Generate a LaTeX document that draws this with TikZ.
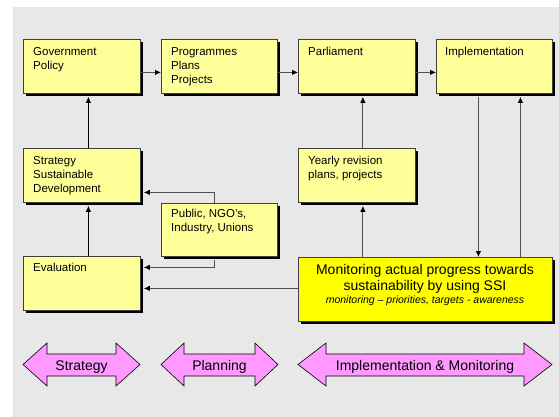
\documentclass[tikz,border=0pt]{standalone}
\usepackage{fontspec}
\setmainfont{Liberation Sans}
\usetikzlibrary{shadows,arrows.meta}
\definecolor{bggray}{HTML}{E8E8E8}
\definecolor{boxyellow}{HTML}{FFFF99}
\definecolor{monyellow}{HTML}{FFFF00}
\definecolor{pinkfill}{HTML}{FF99FF}
\definecolor{linegray}{HTML}{505050}
\definecolor{boxborder}{HTML}{404040}
\newcommand{\dblarrow}[5]{%
  \draw[parrow] (#1,364.5) -- (#1+#3,343) -- (#1+#3,354) -- (#2-#3,354) -- (#2-#3,343) -- (#2,364.5)
     -- (#2-#3,386) -- (#2-#3,376) -- (#1+#3,376) -- (#1+#3,386) -- cycle;
  \node[arrowtext] (#4) at ({(#1+#2)/2},370.5) {#5};}
\begin{document}
\begin{tikzpicture}[x=1pt,y=-1pt,
  ybox/.style={draw=boxborder, line width=0.8pt, fill=boxyellow,
    drop shadow={shadow xshift=3pt, shadow yshift=-3pt, opacity=1, fill=black},
    anchor=north west, inner sep=0pt},
  boxtext/.style={anchor=north west, inner sep=0pt, align=left,
    font=\fontsize{11.5}{14}\selectfont, text=black},
  montext/.style={anchor=base, inner sep=0pt, font=\fontsize{14}{17}\selectfont, text=black},
  conn/.style={draw=linegray, line width=0.9pt, -{Latex[length=6pt,width=5.5pt,fill=black,color=black]}},
  conndark/.style={conn, draw=black},
  parrow/.style={draw=black, line width=0.6pt, fill=pinkfill, line join=miter},
  arrowtext/.style={anchor=base, inner sep=0pt, font=\fontsize{14}{17}\selectfont, text=black}]
\useasboundingbox (0,0) rectangle (559,417);
\fill[white] (0,0) rectangle (559,417);
\fill[bggray] (13,7) rectangle (559,417);

% boxes
\node[ybox, minimum width=117pt, minimum height=54pt] (gov) at (23,39) {};
\node[ybox, minimum width=116pt, minimum height=54pt] (prog) at (161,39) {};
\node[ybox, minimum width=117pt, minimum height=54pt] (parl) at (298,39) {};
\node[ybox, minimum width=116pt, minimum height=54pt] (impl) at (436,39) {};
\node[ybox, minimum width=117pt, minimum height=54pt] (strat) at (23,148) {};
\node[ybox, minimum width=117pt, minimum height=54pt] (year) at (298,148) {};
\node[ybox, minimum width=116pt, minimum height=53pt] (pub) at (161,203) {};
\node[ybox, minimum width=117pt, minimum height=54pt] (eval) at (23,256) {};
\node[ybox, fill=monyellow, minimum width=254pt, minimum height=64pt] (mon) at (298,257) {};

% box texts
\node[boxtext] (govt) at ([xshift=10pt,yshift=-8pt]gov.north west) {Government\\Policy};
\node[boxtext] (progt) at ([xshift=10pt,yshift=-8pt]prog.north west) {Programmes\\Plans\\Projects};
\node[boxtext] (parlt) at ([xshift=10pt,yshift=-8pt]parl.north west) {Parliament};
\node[boxtext] (implt) at ([xshift=9pt,yshift=-8pt]impl.north west) {Implementation};
\node[boxtext] (stratt) at ([xshift=10pt,yshift=-8pt]strat.north west) {Strategy\\Sustainable\\Development};
\node[boxtext] (yeart) at ([xshift=10pt,yshift=-8pt]year.north west) {Yearly revision\\plans, projects};
\node[boxtext] (pubt) at ([xshift=10pt,yshift=-6pt]pub.north west) {Public, NGO's,\\Industry, Unions};
\node[boxtext] (evalt) at ([xshift=10pt,yshift=-7pt]eval.north west) {Evaluation};
\node[montext] (mt1) at (425,274) {Monitoring actual progress towards};
\node[montext] (mt2) at (425,290.5) {sustainability by using SSI};
\node[montext, font=\fontsize{10.5}{12.5}\selectfont\itshape] (mt3) at (425,303.5) {monitoring – priorities, targets - awareness};

% connectors
\draw[conn] ([yshift=-6pt]gov.east) -- ([yshift=-6pt]prog.west);
\draw[conn] ([yshift=-6pt]prog.east) -- ([yshift=-6pt]parl.west);
\draw[conn] ([yshift=-6pt]parl.east) -- ([yshift=-6pt]impl.west);
\draw[conndark, shorten >=3pt] ([xshift=6.5pt]strat.north) -- ([xshift=6.5pt]gov.south);
\draw[conndark, shorten >=3pt] ([xshift=6.5pt]eval.north) -- ([xshift=6.5pt]strat.south);
\draw[conn, shorten >=3pt] ([xshift=-5pt]pub.north) |- ([yshift=-17pt]strat.east);
\draw[conn, shorten >=3pt] ([xshift=-5pt,yshift=-3pt]pub.south) |- ([yshift=16pt]eval.east);
\draw[conn, shorten >=3pt] ([yshift=1pt]mon.west) -- ([yshift=1pt]mon.west -| eval.east);
\draw[conn, shorten >=3pt] ([xshift=6pt]year.south |- mon.north) -- ([xshift=6pt]year.south);
\draw[conn, shorten >=3pt] ([xshift=6pt]year.north) -- ([xshift=6pt]parl.south);
\draw[conn] ([xshift=-16pt,yshift=-3pt]impl.south) -- ([xshift=-16pt]impl.south |- mon.north);
\draw[conn, shorten >=3pt] ([xshift=26pt]impl.south |- mon.north) -- ([xshift=26pt]impl.south);

% phase arrows
\dblarrow{23}{140}{24}{pstrat}{Strategy}
\dblarrow{161}{278}{23}{pplan}{Planning}
\dblarrow{298}{552}{28}{pimpl}{Implementation \& Monitoring}
\end{tikzpicture}
\end{document}
